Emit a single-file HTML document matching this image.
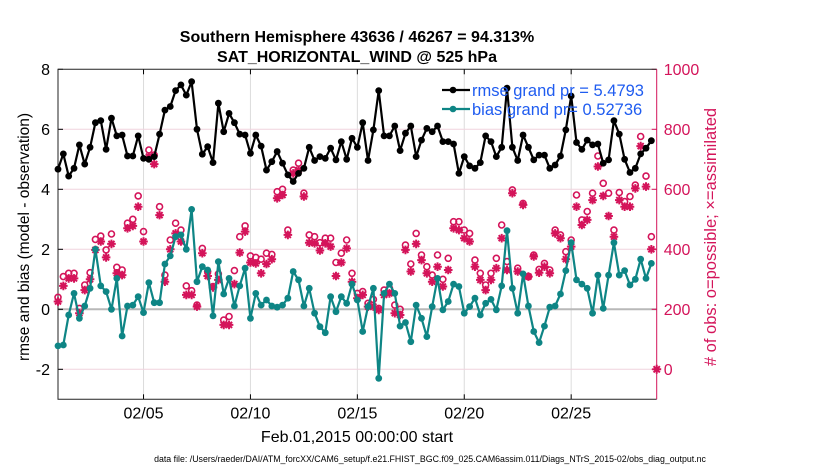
<!DOCTYPE html>
<html><head><meta charset="utf-8"><style>
body{margin:0;background:#fff;}
svg{display:block;font-family:"Liberation Sans",Arial,sans-serif;}
</style></head><body>
<svg id="chart" width="830" height="470" viewBox="0 0 830 470" xmlns="http://www.w3.org/2000/svg">
<text x="357" y="42" text-anchor="middle" font-size="16" font-weight="bold">Southern Hemisphere 43636 / 46267 = 94.313%</text>
<text x="357" y="62" text-anchor="middle" font-size="16" font-weight="bold">SAT_HORIZONTAL_WIND @ 525 hPa</text>
<g id="grid"></g>
<g id="axes"></g>
<g id="marks"></g>
<text transform="translate(29,237) rotate(-90)" text-anchor="middle" font-size="15.5">rmse and bias (model - observation)</text>
<text transform="translate(716,237) rotate(-90)" text-anchor="middle" font-size="16.5" fill="#d4145a"># of obs: o=possible; ×=assimilated</text>
<text x="357" y="442" text-anchor="middle" font-size="16">Feb.01,2015 00:00:00 start</text>
<text x="430" y="462" text-anchor="middle" font-size="8.8">data file: /Users/raeder/DAI/ATM_forcXX/CAM6_setup/f.e21.FHIST_BGC.f09_025.CAM6assim.011/Diags_NTrS_2015-02/obs_diag_output.nc</text>
<g id="legend"></g>
</svg>
<script>
const rmse=[4.67,5.18,4.44,4.70,5.48,4.84,5.40,6.22,6.29,5.33,6.37,5.78,5.81,5.11,5.11,5.78,5.03,5.00,5.09,5.84,6.64,6.76,7.29,7.48,7.14,7.59,6.00,5.17,5.42,4.89,6.87,5.92,6.53,6.22,5.84,5.81,5.20,5.81,
5.44,4.64,4.92,5.26,4.87,4.48,4.26,4.53,4.70,5.40,4.96,5.09,5.03,5.37,4.98,5.59,5.00,5.70,5.40,6.22,4.96,5.98,7.29,5.78,5.78,6.11,5.29,5.87,6.11,5.09,5.64,6.03,5.92,6.11,5.59,5.59,5.51,4.53,
5.09,4.78,4.70,4.89,5.78,5.59,5.09,5.40,7.37,5.40,4.96,5.81,5.40,4.98,5.14,5.14,4.70,4.81,5.11,5.98,7.11,5.56,5.33,5.64,5.48,5.51,4.87,4.98,6.29,5.84,5.00,4.56,4.70,5.18,5.37,5.62];
const bias=[-1.22,-1.19,-0.19,0.53,-0.30,0.11,0.70,2.00,0.78,0.59,0.00,1.03,-0.89,0.11,0.14,0.42,-0.11,0.89,0.22,0.22,1.51,1.78,2.42,2.48,2.00,3.33,0.92,1.42,1.31,-0.22,1.59,0.51,1.03,0.11,0.78,1.37,-0.30,0.53,
0.14,0.31,0.11,0.07,0.14,0.37,1.26,0.98,0.11,0.70,-0.13,-0.58,-0.78,0.42,-0.08,0.42,0.20,0.84,0.31,-0.74,0.09,0.70,-2.30,0.53,0.84,0.53,-0.56,-0.44,-1.08,0.14,-0.30,-0.91,0.09,1.03,-0.02,0.26,0.84,0.76,
-0.13,0.09,0.37,-0.19,0.20,0.33,-0.02,0.78,2.62,0.70,-0.13,1.18,0.11,-0.74,-1.11,-0.56,0.07,0.11,0.51,1.29,2.22,0.98,0.84,0.70,-0.13,1.14,0.03,1.14,2.22,1.14,1.29,0.81,1.00,1.67,1.03,1.53];
const nPossible=[240,309,320,320,203,281,322,433,444,398,451,340,331,487,500,578,459,731,714,542,314,431,487,464,278,262,214,403,326,276,318,164,176,329,442,478,378,373,
367,387,383,592,600,464,664,687,587,448,442,422,437,437,356,387,431,320,253,259,220,233,203,264,270,214,200,414,351,453,381,342,314,381,300,370,492,492,
464,453,364,320,281,320,370,481,359,598,337,553,309,381,333,353,331,464,448,392,431,581,498,526,587,711,620,587,464,589,559,576,614,776,644,442];
const nAssim=[226,278,303,303,187,264,300,398,426,373,418,320,314,470,478,542,426,709,684,514,292,400,453,426,248,248,209,387,311,273,298,148,148,284,389,459,356,353,
320,351,367,570,581,448,653,664,576,422,420,396,420,409,311,356,403,292,237,248,209,209,198,248,253,187,181,398,326,418,364,320,292,342,276,331,470,464,
437,426,342,298,264,298,337,437,331,587,326,548,309,376,322,342,320,453,437,367,409,542,481,498,564,676,578,511,442,564,542,542,603,744,609,400];
const leftTicks=[-2,0,2,4,6,8];
const rightTicks=[0,200,400,600,800,1000];
const dateTicks=[4,9,14,19,24];
const dateLabels=["02/05","02/10","02/15","02/20","02/25"];
const stepDays=0.25;

const L=58,R=656.7,T=69.3,B=399.3;
const X=d=>L+d*(R-L)/28;
const YL=v=>309.3-v*30;
const YR=c=>YL((c-200)/100);
const NS="http://www.w3.org/2000/svg";
function mk(parent,tag,attrs){const e=document.createElementNS(NS,tag);for(const k in attrs)e.setAttribute(k,attrs[k]);parent.appendChild(e);return e;}
const grid=document.getElementById('grid'),axes=document.getElementById('axes'),marks=document.getElementById('marks'),leg=document.getElementById('legend');
const PINK="#d4145a",TEAL="#0e8585";
dateTicks.forEach((d,i)=>{const g=mk(grid,'line',{x1:X(d),x2:X(d),y1:T,y2:B,stroke:"#dcdcdc","stroke-width":1});


const t=mk(axes,'text',{x:X(d),y:B+19,"text-anchor":"middle","font-size":16});t.textContent=dateLabels[i];


mk(axes,'line',{x1:X(d),x2:X(d),y1:B,y2:B-5,stroke:"#000"});
mk(axes,'line',{x1:X(d),x2:X(d),y1:T,y2:T+5,stroke:"#000"});});
rightTicks.forEach(c=>{const y=YR(c);if(c!==200&&c!==1000){const g=mk(grid,'line',{x1:L,x2:R,y1:y,y2:y,stroke:"#f0d4de","stroke-width":1});

}
mk(axes,'line',{x1:R,x2:R-5,y1:y,y2:y,stroke:PINK});
const t=mk(axes,'text',{x:R+7,y:y+5.5,"font-size":16,fill:PINK});t.textContent=c;

});
const z=mk(grid,'line',{x1:L,x2:R,y1:YL(0),y2:YL(0),stroke:"#b8b8b8","stroke-width":2});


leftTicks.forEach(v=>{const y=YL(v);mk(axes,'line',{x1:L,x2:L+5,y1:y,y2:y,stroke:"#000"});
const t=mk(axes,'text',{x:L-8,y:y+5.5,"text-anchor":"end","font-size":16});t.textContent=v;

});
mk(axes,'path',{d:`M${R},${T}H${L}V${B}H${R}`,fill:"none",stroke:"#222","stroke-width":1});
mk(axes,'line',{x1:R,x2:R,y1:T,y2:B,stroke:PINK,"stroke-width":1});
function star(p,x,y,r,col){const s=`M${x-r},${y}H${x+r}M${x},${y-r}V${y+r}M${x-r*.7},${y-r*.7}L${x+r*.7},${y+r*.7}M${x-r*.7},${y+r*.7}L${x+r*.7},${y-r*.7}`;return mk(p,'path',{d:s,stroke:col,"stroke-width":2,fill:"none"});}
nPossible.forEach((c,i)=>{const x=X(i*stepDays);const e=mk(marks,'circle',{cx:x,cy:YR(c),r:3,fill:"none",stroke:PINK,"stroke-width":1.6});

});
nAssim.forEach((c,i)=>{const x=X(i*stepDays);const e=star(marks,x,YR(c),4.3,PINK);

});
const edge=star(marks,R,YR(0),4.5,PINK);


function series(vals,col,name){const pts=vals.map((v,i)=>X(i*stepDays).toFixed(1)+","+YL(v).toFixed(1)).join(" ");
const pl=mk(marks,'polyline',{points:pts,fill:"none",stroke:col,"stroke-width":2.2,"stroke-linejoin":"round"});


vals.forEach((v,i)=>{const c=mk(marks,'circle',{cx:X(i*stepDays),cy:YL(v),r:3.4,fill:col});

});}
series(bias,TEAL,'bias');
series(rmse,"#000",'rmse');
[["#000","rmse grand pr = 5.4793",90],[TEAL,"bias grand pr= 0.52736",109]].forEach(([col,txt,y],k)=>{
mk(leg,'line',{x1:442,x2:470,y1:y,y2:y,stroke:col,"stroke-width":2.2});
mk(leg,'circle',{cx:453,cy:y,r:3.3,fill:col});
const t=mk(leg,'text',{x:472,y:y+6,"font-size":16.5,fill:"#1f5cf0"});t.textContent=txt;

});
</script>
</body></html>
